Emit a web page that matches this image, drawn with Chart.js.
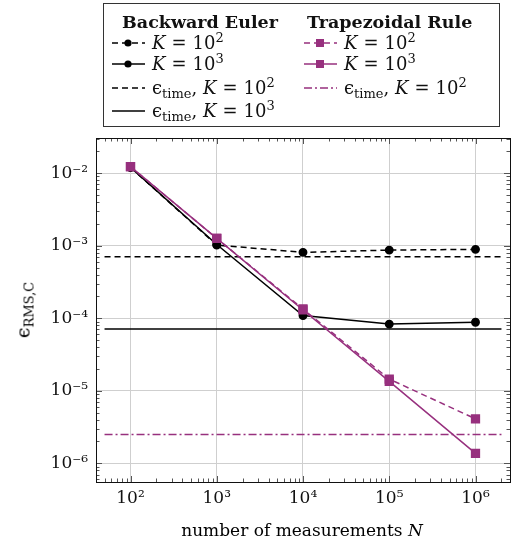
<!DOCTYPE html>
<html>
<head>
<meta charset="utf-8">
<script src="https://cdn.jsdelivr.net/npm/chart.js@4.4.1/dist/chart.umd.min.js"></script>
<style>
  body { margin: 0; background: #fff; font-family: "DejaVu Serif", serif; }
  #wrap { position: absolute; left: 0; top: 0; width: 518px; height: 543px; }
  .lg { position: absolute; left: 103px; top: 3px; width: 397px; height: 124px; border: 1px solid #333; box-sizing: border-box; }
  .t { position: absolute; font-size: 18px; white-space: nowrap; line-height: 1; color: #111; }
  .h { font-weight: bold; font-size: 17.5px; }
  .t i { font-style: italic; }
  .t sup { font-size: 13px; vertical-align: 7px; line-height: 0; }
  .t sub { font-size: 13px; vertical-align: -4px; line-height: 0; }
  .eq { margin: 0 6px; }
  svg.s { position: absolute; }
  #ytitle { position: absolute; left: 24px; top: 310px; transform: translate(-50%, -50%) rotate(-90deg); font-size: 19px; white-space: nowrap; }
  #ytitle sub { font-size: 13px; vertical-align: -4px; }
  #xtitle { position: absolute; left: 302px; top: 530px; transform: translate(-50%, -50%); font-size: 17px; white-space: nowrap; }
</style>
</head>
<body>
<div id="wrap"><canvas id="chart"></canvas></div>
<div class="lg" id="legend"></div>
<div id="ytitle">ϵ<sub>RMS,C</sub></div>
<div id="xtitle">number of measurements <i>N</i></div>
<script>
// số liệu
const N = [1e2, 1e3, 1e4, 1e5, 1e6];
const lineRange = [50, 2e6];
const beK2 = [1.2e-2, 1.02e-3, 8.1e-4, 8.7e-4, 8.9e-4];
const beK3 = [1.2e-2, 1.04e-3, 1.09e-4, 8.3e-5, 8.8e-5];
const trK2 = [1.23e-2, 1.26e-3, 1.34e-4, 1.45e-5, 4.1e-6];
const trK3 = [1.23e-2, 1.26e-3, 1.3e-4, 1.35e-5, 1.37e-6];
const beTimeK2 = 7.05e-4;
const beTimeK3 = 7.1e-5;
const trTimeK2 = 2.5e-6;
const xTicks = [1e2, 1e3, 1e4, 1e5, 1e6];
const yTicks = [1e-6, 1e-5, 1e-4, 1e-3, 1e-2];

const purple = "#97307e";
const sup = { "-": "⁻", "0": "⁰", "1": "¹", "2": "²", "3": "³", "4": "⁴", "5": "⁵", "6": "⁶", "7": "⁷", "8": "⁸", "9": "⁹" };
const pow10 = v => "10" + String(Math.round(Math.log10(v))).split("").map(c => sup[c]).join("");
const pts = ys => N.map((x, i) => ({ x: x, y: ys[i] }));
const hline = y => lineRange.map(x => ({ x: x, y: y }));

// minor tick marks inside the box + frame
const frame = {
  id: "frame",
  afterDraw(chart) {
    const { ctx, chartArea: a, scales } = chart;
    ctx.save();
    ctx.strokeStyle = "#555";
    ctx.lineWidth = 1;
    for (let d = 1; d <= 6; d++) {
      for (let k = 1; k <= 9; k++) {
        const v = k * Math.pow(10, d);
        if (v < scales.x.min || v > scales.x.max) continue;
        const px = Math.round(scales.x.getPixelForValue(v)) + 0.5;
        const len = k === 1 ? 6 : 3.5;
        ctx.beginPath();
        ctx.moveTo(px, a.bottom); ctx.lineTo(px, a.bottom - len);
        ctx.moveTo(px, a.top); ctx.lineTo(px, a.top + len);
        ctx.stroke();
      }
    }
    for (let d = -7; d <= -1; d++) {
      for (let k = 1; k <= 9; k++) {
        const v = k * Math.pow(10, d);
        if (v < scales.y.min || v > scales.y.max) continue;
        const py = Math.round(scales.y.getPixelForValue(v)) + 0.5;
        const len = k === 1 ? 6 : 3.5;
        ctx.beginPath();
        ctx.moveTo(a.left, py); ctx.lineTo(a.left + len, py);
        ctx.moveTo(a.right, py); ctx.lineTo(a.right - len, py);
        ctx.stroke();
      }
    }
    ctx.strokeStyle = "#111";
    ctx.strokeRect(Math.round(a.left) + 0.5, Math.round(a.top) + 0.5, Math.round(a.right - a.left), Math.round(a.bottom - a.top));
    ctx.restore();
  }
};

const datasets = [
  { label: "TR K=10^3", data: pts(trK3), borderColor: purple, backgroundColor: purple, borderWidth: 1.5, pointStyle: "rect", pointRadius: 5.5, order: 0 },
  { label: "TR K=10^2", data: pts(trK2), borderColor: purple, backgroundColor: purple, borderWidth: 1.5, borderDash: [6, 4], pointStyle: "rect", pointRadius: 5.5, order: 0 },
  { label: "TR eps K=10^2", data: hline(trTimeK2), borderColor: purple, borderWidth: 1.5, borderDash: [8, 3, 2, 3], pointRadius: 0, order: 1 },
  { label: "BE K=10^2", data: pts(beK2), borderColor: "#000", backgroundColor: "#000", borderWidth: 1.5, borderDash: [6, 4], pointRadius: 3.7, order: 2 },
  { label: "BE K=10^3", data: pts(beK3), borderColor: "#000", backgroundColor: "#000", borderWidth: 1.5, pointRadius: 3.7, order: 2 },
  { label: "BE eps K=10^2", data: hline(beTimeK2), borderColor: "#000", borderWidth: 1.5, borderDash: [6, 4], pointRadius: 0, order: 3 },
  { label: "BE eps K=10^3", data: hline(beTimeK3), borderColor: "#000", borderWidth: 1.5, pointRadius: 0, order: 3 }
];

new Chart(document.getElementById("chart"), {
  type: "line",
  data: { datasets: datasets },
  options: {
    responsive: true,
    maintainAspectRatio: false,
    animation: false,
    layout: { padding: { top: 138, right: 8, left: 0, bottom: 0 } },
    plugins: { legend: { display: false }, tooltip: { enabled: false } },
    scales: {
      x: {
        type: "logarithmic",
        min: Math.pow(10, 1.6),
        max: Math.pow(10, 6.4),
        afterBuildTicks: s => { s.ticks = xTicks.map(v => ({ value: v })); },
        afterFit: s => { s.height = 61; },
        ticks: { callback: v => pow10(v), color: "#111", font: { family: "DejaVu Serif", size: 17 }, padding: 6, maxRotation: 0, autoSkip: false },
        grid: { color: "#cfcfcf", drawTicks: false },
        border: { display: false }
      },
      y: {
        type: "logarithmic",
        min: Math.pow(10, -6.258),
        max: Math.pow(10, -1.515),
        afterBuildTicks: s => { s.ticks = yTicks.map(v => ({ value: v })); },
        afterFit: s => { s.width = 96; },
        ticks: { callback: v => pow10(v), color: "#111", font: { family: "DejaVu Serif", size: 17 }, padding: 8, autoSkip: false },
        grid: { color: "#cfcfcf", drawTicks: false },
        border: { display: false }
      }
    }
  },
  plugins: [frame]
});

// legend (HTML, positions relative to the legend box)
const legendRows = [
  { col: 0, row: 0, color: "#000", dash: "6,4", marker: "circle", html: "<i>K</i><span class='eq'>=</span>10<sup>2</sup>" },
  { col: 0, row: 1, color: "#000", dash: "", marker: "circle", html: "<i>K</i><span class='eq'>=</span>10<sup>3</sup>" },
  { col: 0, row: 2, color: "#000", dash: "6,4", marker: "", html: "ϵ<sub>time</sub>, <i>K</i><span class='eq'>=</span>10<sup>2</sup>" },
  { col: 0, row: 3, color: "#000", dash: "", marker: "", html: "ϵ<sub>time</sub>, <i>K</i><span class='eq'>=</span>10<sup>3</sup>" },
  { col: 1, row: 0, color: purple, dash: "6,4", marker: "rect", html: "<i>K</i><span class='eq'>=</span>10<sup>2</sup>" },
  { col: 1, row: 1, color: purple, dash: "", marker: "rect", html: "<i>K</i><span class='eq'>=</span>10<sup>3</sup>" },
  { col: 1, row: 2, color: purple, dash: "8,3,2,3", marker: "", html: "ϵ<sub>time</sub>, <i>K</i><span class='eq'>=</span>10<sup>2</sup>" }
];
const rowY = [39, 60, 84, 107];
const colX = [7, 199];
const lg = document.getElementById("legend");
let out = "<div class='t h' style='left:18px;top:10px'>Backward Euler</div>" +
  "<div class='t h' style='left:203px;top:10px'>Trapezoidal Rule</div>";
legendRows.forEach(r => {
  const x = colX[r.col], y = rowY[r.row];
  let m = "";
  if (r.marker === "circle") m = `<circle cx="17" cy="6" r="3.6" fill="${r.color}"/>`;
  if (r.marker === "rect") m = `<rect x="13" y="2" width="8" height="8" fill="${r.color}"/>`;
  out += `<svg class="s" width="36" height="12" style="left:${x}px;top:${y - 6}px">` +
    `<line x1="1" y1="6" x2="34" y2="6" stroke="${r.color}" stroke-width="1.5" stroke-dasharray="${r.dash}"/>${m}</svg>`;
  out += `<div class="t" style="left:${x + 41}px;top:${y - 9}px">${r.html}</div>`;
});
lg.innerHTML = out;
</script>
</body>
</html>
